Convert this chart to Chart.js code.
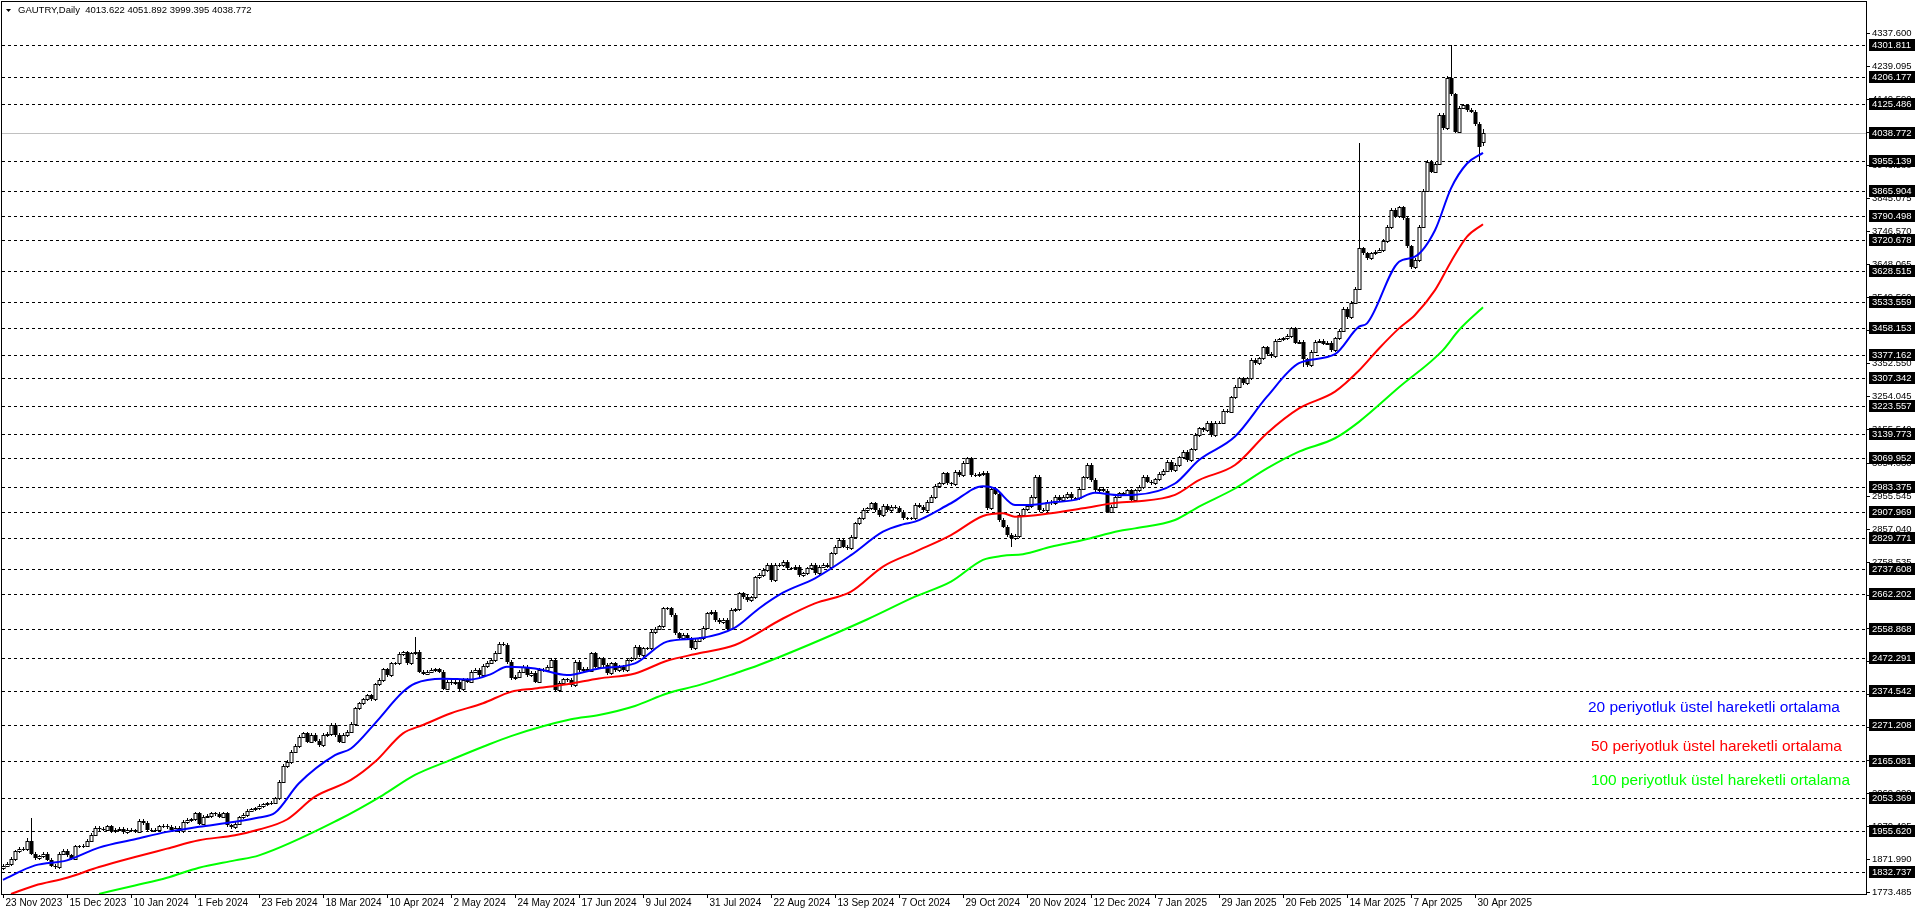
<!DOCTYPE html>
<html>
<head>
<meta charset="utf-8">
<script src="https://cdn.jsdelivr.net/npm/chart.js@4/dist/chart.umd.min.js"></script>
<style>
  html, body { margin: 0; padding: 0; background: #fff; }
  canvas { display: block; }
</style>
</head>
<body>
<canvas id="chart" width="1916" height="915"></canvas>
<script>
// daily closes (bar 0 = 23 Nov 2023)
const closes = [
  1852,1857,1872,1895,1902,1902,1925,1888,1875,1880,1887,1870,1852,1848,1888,1896,1883,1873,1910,1910,
  1912,1927,1945,1965,1962,1960,1970,1955,1960,1962,1953,1960,1958,1954,1985,1980,1958,1960,1958,1970,
  1972,1968,1958,1966,1956,1983,1988,1990,2008,1978,1998,2000,2008,2006,1998,2008,1973,1968,1978,1996,
  2003,2016,2020,2023,2030,2035,2038,2040,2053,2103,2150,2162,2192,2209,2237,2247,2222,2242,2225,2212,
  2242,2245,2272,2242,2222,2242,2252,2275,2322,2337,2349,2361,2350,2393,2406,2438,2420,2456,2456,2484,
  2489,2456,2486,2491,2431,2425,2431,2436,2438,2431,2381,2400,2397,2401,2380,2406,2401,2431,2436,2421,
  2448,2458,2466,2488,2514,2512,2460,2411,2416,2431,2446,2421,2428,2401,2436,2436,2446,2466,2376,2398,
  2408,2406,2391,2461,2436,2440,2434,2486,2446,2471,2451,2426,2456,2436,2446,2436,2466,2471,2506,2481,
  2501,2501,2550,2560,2567,2620,2620,2600,2546,2531,2541,2531,2501,2524,2531,2563,2605,2610,2585,2580,
  2585,2560,2615,2617,2665,2654,2645,2653,2713,2720,2735,2750,2705,2750,2750,2760,2740,2740,2745,2720,
  2725,2740,2750,2725,2745,2750,2745,2784,2804,2824,2804,2799,2834,2874,2889,2914,2919,2934,2914,2899,
  2926,2914,2924,2921,2909,2889,2889,2889,2929,2924,2914,2939,2953,2985,2993,3023,2993,2990,3028,3018,
  3055,3068,3018,3018,3021,3025,2919,2978,2963,2884,2864,2839,2830,2836,2899,2916,2926,2953,3013,2914,
  2914,2939,2934,2953,2944,2953,2963,2949,2949,2978,3011,3048,3003,2973,2978,2972,2909,2924,2954,2964,
  2960,2973,2944,2973,2983,3013,2998,2993,3005,3021,3031,3058,3033,3048,3071,3088,3063,3095,3138,3158,
  3153,3175,3138,3175,3175,3210,3207,3250,3282,3307,3292,3307,3363,3353,3367,3399,3379,3374,3419,3423,
  3426,3433,3456,3413,3416,3364,3347,3386,3416,3419,3410,3413,3391,3426,3449,3515,3489,3533,3575,3695,
  3680,3665,3680,3685,3690,3717,3759,3809,3791,3817,3784,3701,3638,3660,3760,3867,3953,3924,3948,4093,
  4053,4202,4155,4043,4115,4122,4108,4103,4066,3996,4038.772
];
const firstOpen = 1845;
const lastOpen = 4013.622;
// long wicks: [bar, high] and [bar, low]
const highWicks = [[6, 1935], [7, 1995], [103, 2535], [138, 2470], [339, 4008], [361, 4210], [362, 4302], [370, 4051.892]];
const lowWicks = [[138, 2370], [252, 2804], [325, 3340], [369, 3955], [370, 3999.395]];

// EMA values read at sampled bars
const ema20Bars = [0,8,16,24,33,41,49,58,64,68,74,83,87,93,100,103,110,117,122,126,133,141,149,158,166,174,183,189,195,203,212,220,225,228,237,245,248,253,257,262,268,273,279,283,293,299,308,316,324,333,339,341,349,353,358,362,366,370];
const ema20Vals = [1810,1853,1868,1906,1931,1953,1968,1983,1996,2010,2098,2182,2202,2277,2371,2396,2410,2408,2424,2446,2441,2421,2441,2456,2521,2531,2563,2620,2667,2710,2779,2849,2871,2879,2934,2985,2978,2929,2929,2936,2944,2965,2958,2959,2993,3063,3133,3252,3352,3379,3461,3471,3655,3670,3749,3874,3948,3980];
const ema50Bars = [2,8,16,24,33,41,49,58,64,71,78,87,93,100,105,112,120,127,133,141,149,158,166,174,183,195,203,212,220,228,237,245,250,253,262,270,279,283,293,299,308,316,324,333,339,344,349,353,358,362,366,370];
const ema50Vals = [1768,1793,1816,1848,1878,1903,1928,1943,1960,1990,2058,2108,2162,2247,2272,2307,2337,2371,2381,2394,2411,2426,2464,2486,2511,2590,2635,2670,2745,2789,2839,2896,2904,2894,2904,2919,2936,2939,2959,3003,3048,3143,3217,3267,3330,3396,3456,3496,3570,3655,3730,3767];
const ema100Bars = [24,33,41,49,58,64,84,95,103,112,120,127,142,149,158,166,174,183,189,216,228,237,245,250,255,262,270,279,283,293,299,308,316,324,333,339,349,360,364,370];
const ema100Vals = [1768,1793,1816,1846,1868,1883,1990,2063,2123,2168,2207,2239,2289,2302,2329,2366,2391,2426,2451,2587,2655,2700,2765,2777,2782,2804,2824,2851,2859,2884,2924,2978,3038,3088,3128,3177,3280,3391,3451,3519];

// horizontal levels with labels
const levels = [4301.811,4206.177,4125.486,3955.139,3865.904,3790.498,3720.678,3628.515,3533.559,3458.153,3377.162,3307.342,3223.557,3139.773,3069.952,2983.375,2907.969,2829.771,2737.608,2662.202,2558.868,2472.291,2374.542,2271.208,2165.081,2053.369,1955.620,1832.737];
const currentPrice = 4038.772;
const priceTicks = [4337.600,4239.095,4140.590,4042.085,3943.580,3845.075,3746.570,3648.065,3549.560,3451.055,3352.550,3254.045,3155.540,3054.030,2955.545,2857.040,2758.535,2660.030,2561.525,2463.020,2364.515,2266.010,2167.505,2069.000,1970.495,1871.990,1773.485];
const dateLabels = ["23 Nov 2023","15 Dec 2023","10 Jan 2024","1 Feb 2024","23 Feb 2024","18 Mar 2024","10 Apr 2024","2 May 2024","24 May 2024","17 Jun 2024","9 Jul 2024","31 Jul 2024","22 Aug 2024","13 Sep 2024","7 Oct 2024","29 Oct 2024","20 Nov 2024","12 Dec 2024","7 Jan 2025","29 Jan 2025","20 Feb 2025","14 Mar 2025","7 Apr 2025","30 Apr 2025"];
const dateStep = 16;
const header = "GAUTRY,Daily  4013.622 4051.892 3999.395 4038.772";
const legendTexts = ["20 periyotluk üstel hareketli ortalama","50 periyotluk üstel hareketli ortalama","100 periyotluk üstel hareketli ortalama"];
const legendColors = ["#0000ff","#ff0000","#00ff00"];

const LABEL_FONT = "9.5px 'Liberation Sans', Arial, sans-serif";

function toPoints(bars, vals) {
  return bars.map((b, i) => ({ x: b, y: vals[i] }));
}

const highMap = Object.fromEntries(highWicks);
const lowMap = Object.fromEntries(lowWicks);
const candles = closes.map((c, i) => {
  let o = i === 0 ? firstOpen : closes[i - 1];
  if (i === closes.length - 1) o = lastOpen;
  const h = highMap[i] !== undefined ? highMap[i] : Math.max(o, c) + 5;
  const l = lowMap[i] !== undefined ? lowMap[i] : Math.min(o, c) - 5;
  return { o, h, l, c };
});

const backdrop = {
  id: "backdrop",
  beforeDatasetsDraw(chart) {
    const { ctx, chartArea: a, scales: { x, y } } = chart;
    ctx.save();
    // dashed level lines
    ctx.strokeStyle = "#000";
    ctx.lineWidth = 1;
    ctx.setLineDash([3, 3]);
    levels.forEach(v => {
      const py = Math.round(y.getPixelForValue(v)) + 0.5;
      ctx.beginPath(); ctx.moveTo(a.left, py); ctx.lineTo(a.right, py); ctx.stroke();
    });
    ctx.setLineDash([]);
    // current price line
    ctx.strokeStyle = "#c0c0c0";
    const cy = Math.round(y.getPixelForValue(currentPrice)) + 0.5;
    ctx.beginPath(); ctx.moveTo(a.left, cy); ctx.lineTo(a.right, cy); ctx.stroke();

    // candles
    ctx.strokeStyle = "#000";
    candles.forEach((k, i) => {
      const px = Math.round(x.getPixelForValue(i)) + 0.5;
      const yo = Math.round(y.getPixelForValue(k.o));
      const yc = Math.round(y.getPixelForValue(k.c));
      const yh = Math.round(y.getPixelForValue(k.h));
      const yl = Math.round(y.getPixelForValue(k.l));
      ctx.beginPath(); ctx.moveTo(px, yh); ctx.lineTo(px, yl); ctx.stroke();
      const top = Math.min(yo, yc), bot = Math.max(yo, yc);
      if (k.c >= k.o) {
        ctx.fillStyle = "#fff";
        ctx.fillRect(px - 1.5, top, 3, Math.max(bot - top, 1));
        ctx.strokeRect(px - 1.5, top + 0.5, 3, Math.max(bot - top, 0));
      } else {
        ctx.fillStyle = "#000";
        ctx.fillRect(px - 2, top, 4, Math.max(bot - top, 1));
      }
    });
    ctx.restore();
  },
  afterDraw(chart) {
    const { ctx, chartArea: a, scales: { x, y } } = chart;
    ctx.save();
    // frame
    ctx.strokeStyle = "#000";
    ctx.lineWidth = 1;
    ctx.strokeRect(a.left - 0.5, a.top - 0.5, a.right - a.left + 1, a.bottom - a.top + 1);

    // price scale ticks
    ctx.font = LABEL_FONT;
    ctx.textBaseline = "middle";
    ctx.textAlign = "left";
    ctx.fillStyle = "#000";
    priceTicks.forEach(v => {
      const py = Math.round(y.getPixelForValue(v)) + 0.5;
      ctx.beginPath(); ctx.moveTo(a.right, py); ctx.lineTo(a.right + 4, py); ctx.stroke();
      ctx.fillText(v.toFixed(3), a.right + 6, py);
    });
    // level boxes
    levels.concat([currentPrice]).forEach(v => {
      const py = Math.round(y.getPixelForValue(v));
      ctx.fillStyle = "#000";
      ctx.fillRect(a.right + 3, py - 6, 46, 12);
      ctx.fillStyle = "#fff";
      ctx.fillText(v.toFixed(3), a.right + 6, py + 0.5);
    });

    // date axis
    ctx.fillStyle = "#000";
    ctx.font = "10px 'Liberation Sans', Arial, sans-serif";
    ctx.textBaseline = "top";
    dateLabels.forEach((t, i) => {
      const px = Math.round(x.getPixelForValue(i * dateStep)) + 0.5;
      ctx.beginPath(); ctx.moveTo(px, a.bottom); ctx.lineTo(px, a.bottom + 4); ctx.stroke();
      ctx.fillText(t, px + 2, a.bottom + 4);
    });

    // header
    ctx.font = LABEL_FONT;
    ctx.textBaseline = "middle";
    ctx.beginPath(); ctx.moveTo(6, 9); ctx.lineTo(11, 9); ctx.lineTo(8.5, 12); ctx.closePath(); ctx.fill();
    ctx.fillText(header, 18, 10);

    // legend notes
    const widths = [252, 251, 259];
    const lefts = [1588, 1591, 1591];
    const rows = [708, 747, 781];
    ctx.textBaseline = "middle";
    legendTexts.forEach((t, i) => {
      ctx.font = "100px 'Liberation Sans', Arial, sans-serif";
      const size = 100 * widths[i] / ctx.measureText(t).width;
      ctx.font = size.toFixed(2) + "px 'Liberation Sans', Arial, sans-serif";
      ctx.fillStyle = legendColors[i];
      ctx.fillText(t, lefts[i], rows[i]);
    });
    ctx.restore();
  }
};

const lineSet = (label, pts, color) => ({
  label, data: pts, borderColor: color, borderWidth: 2,
  pointRadius: 0, tension: 0.4, cubicInterpolationMode: "monotone", fill: false
});

new Chart(document.getElementById("chart"), {
  type: "line",
  data: {
    datasets: [
      lineSet("EMA100", toPoints(ema100Bars, ema100Vals), "#00ff00"),
      lineSet("EMA50", toPoints(ema50Bars, ema50Vals), "#ff0000"),
      lineSet("EMA20", toPoints(ema20Bars, ema20Vals), "#0000ff")
    ]
  },
  options: {
    responsive: false,
    animation: false,
    devicePixelRatio: 1,
    layout: { padding: { left: 2, top: 2, right: 50, bottom: 21 } },
    plugins: { legend: { display: false }, tooltip: { enabled: false } },
    scales: {
      x: { type: "linear", display: false, min: -0.25, max: 465.75 },
      y: { type: "linear", display: false, min: 1767.6, max: 4430.2 }
    }
  },
  plugins: [backdrop]
});
</script>
</body>
</html>
